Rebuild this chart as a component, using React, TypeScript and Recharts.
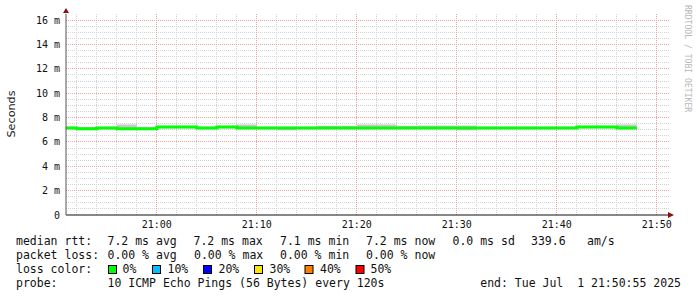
import React from "react";
import {
  ComposedChart,
  Line,
  Area,
  XAxis,
  YAxis,
  CartesianGrid,
  ReferenceDot,
} from "recharts";

// ---------- data ----------
const stepTimes = [
  "20:50:55", "20:52", "20:54", "20:56", "20:58", "21:00", "21:02", "21:04", "21:06", "21:08",
  "21:10", "21:12", "21:14", "21:16", "21:18", "21:20", "21:22", "21:24", "21:26", "21:28",
  "21:30", "21:32", "21:34", "21:36", "21:38", "21:40", "21:42", "21:44", "21:46", "21:48",
];
// median rtt per 120 s step (ms)
const medianRtt = [
  7.15, 7.09, 7.15, 7.09, 7.09, 7.23, 7.23, 7.15, 7.23, 7.15,
  7.15, 7.15, 7.15, 7.15, 7.15, 7.15, 7.15, 7.15, 7.15, 7.15,
  7.15, 7.15, 7.15, 7.15, 7.15, 7.15, 7.22, 7.22, 7.15,
];
// smoke (ping spread) per step, ms
const smokeHigh = [
  7.24, 7.22, 7.24, 7.42, 7.2, 7.32, 7.32, 7.24, 7.32, 7.42,
  7.24, 7.24, 7.24, 7.32, 7.32, 7.42, 7.42, 7.32, 7.34, 7.34,
  7.34, 7.24, 7.24, 7.24, 7.24, 7.24, 7.32, 7.32, 7.42,
];
const smokeLow = [
  7.06, 7.0, 7.06, 7.0, 7.0, 7.13, 7.13, 7.06, 7.13, 7.06,
  7.06, 6.96, 7.06, 7.06, 7.06, 7.06, 7.06, 7.06, 7.06, 7.06,
  6.96, 7.06, 7.06, 7.06, 7.06, 7.06, 7.13, 7.13, 7.06,
];

const xTickLabels = ["21:00", "21:10", "21:20", "21:30", "21:40", "21:50"];
const yTickValues = [0, 2, 4, 6, 8, 10, 12, 14, 16];
const graphStart = "20:50:55";
const graphEnd = "21:51:13";
const yMax = 16.5;

const rttRow = ["median rtt:", "7.2 ms avg", "7.2 ms max", "7.1 ms min", "7.2 ms now", "0.0 ms sd", "339.6", "am/s"];
const lossRow = ["packet loss:", "0.00 % avg", "0.00 % max", "0.00 % min", "0.00 % now"];
const lossLabels = ["0%", "10%", "20%", "30%", "40%", "50%"];
const lossColors = ["#00ff00", "#00c0ff", "#0000ff", "#ffe600", "#ff8000", "#ff0000"];
const probeRow = ["probe:", "10 ICMP Echo Pings (56 Bytes) every 120s"];
const endText = "end: Tue Jul\u00a0 1 21:50:55 2025";

// ---------- helpers ----------
const toSec = (s: string) => {
  const p = s.split(":").map(Number);
  return p[0] * 3600 + p[1] * 60 + (p[2] || 0);
};
const fmt = (v: number) => {
  const h = Math.floor(v / 3600);
  const m = Math.floor((v % 3600) / 60);
  return `${String(h).padStart(2, "0")}:${String(m).padStart(2, "0")}`;
};

const rows = stepTimes.map((t, i) => {
  const k = Math.min(i, medianRtt.length - 1);
  return { t: toSec(t), median: medianRtt[k], smoke: [smokeLow[k], smokeHigh[k]] };
});

const xStart = toSec(graphStart);
const xEnd = toSec(graphEnd);
const xTicks = xTickLabels.map(toSec);

const majorX = xTicks;
const minorX: number[] = [];
for (let t = toSec("20:52"); t <= toSec("21:50"); t += 120) if (!majorX.includes(t)) minorX.push(t);
const majorY = yTickValues.filter((v) => v > 0);
const minorY: number[] = [];
for (let v = 0.5; v < 16.5; v += 0.5) if (v % 2 !== 0) minorY.push(v);

const TopArrow = (p: any) => {
  const { cx, cy } = p;
  return <polygon points={`${cx - 3},${cy - 1} ${cx + 3},${cy - 1} ${cx},${cy - 6}`} fill="#8b1010" />;
};
const RightArrow = (p: any) => {
  const { cx, cy } = p;
  return <polygon points={`${cx - 1},${cy - 3} ${cx - 1},${cy + 3} ${cx + 5},${cy}`} fill="#8b1010" />;
};

const mono = "'DejaVu Sans Mono', monospace";
const rttX = [16, 107.5, 193.5, 280, 366, 452.5, 531, 587];
const lossX = [16, 107.5, 194, 280, 366];
const boxX = [108.5, 152.5, 203.5, 254.5, 305, 356];
const boxLabelX = [122.5, 167.5, 218.5, 269.5, 320, 370.5];

export default function App() {
  return (
    <div style={{ position: "absolute", left: 0, top: 0, width: 697, height: 297, background: "#fff" }}>
      <ComposedChart
        width={697}
        height={297}
        data={rows}
        margin={{ top: 14, right: 28, bottom: 0, left: 0 }}
      >
        <CartesianGrid
          stroke="#d2d2d2"
          strokeDasharray="1 1"
          shapeRendering="crispEdges"
          horizontalValues={minorY}
          verticalValues={minorX}
        />
        <CartesianGrid
          stroke="#eba0a0"
          strokeDasharray="1 1"
          shapeRendering="crispEdges"
          horizontalValues={majorY}
          verticalValues={majorX}
        />
        <XAxis
          dataKey="t"
          type="number"
          domain={[xStart, xEnd]}
          allowDataOverflow
          ticks={xTicks}
          interval={0}
          tickFormatter={fmt}
          height={82}
          tickLine={false}
          tickSize={0}
          tickMargin={6}
          axisLine={{ stroke: "#111" }}
          tick={{ fontFamily: mono, fontSize: 10, fill: "#111" }}
        />
        <YAxis
          type="number"
          domain={[0, yMax]}
          allowDataOverflow
          ticks={yTickValues}
          interval={0}
          tickFormatter={(v: number) => (v === 0 ? "0" : `${v} m`)}
          width={66}
          tickLine={false}
          tickSize={0}
          tickMargin={6}
          axisLine={{ stroke: "#555" }}
          tick={{ fontFamily: mono, fontSize: 10, fill: "#111" }}
        />
        <Area
          type="stepAfter"
          dataKey="smoke"
          stroke="none"
          fill="#c8c8c8"
          fillOpacity={1}
          isAnimationActive={false}
        />
        <Line
          type="stepAfter"
          dataKey="median"
          stroke="#00ff00"
          strokeWidth={3}
          dot={false}
          isAnimationActive={false}
        />
        <ReferenceDot x={xStart} y={yMax} r={0} ifOverflow="visible" shape={TopArrow} />
        <ReferenceDot x={xEnd} y={0} r={0} ifOverflow="visible" shape={RightArrow} />
      </ComposedChart>
      <svg
        width={697}
        height={297}
        style={{ position: "absolute", left: 0, top: 0, pointerEvents: "none" }}
      >
        <text
          x={15}
          y={114}
          transform="rotate(-90 15 114)"
          textAnchor="middle"
          fontFamily="'DejaVu Sans', sans-serif"
          fontSize={11.2}
          fill="#222"
        >
          Seconds
        </text>
        <text
          x={685}
          y={5}
          transform="rotate(90 685 5)"
          fontFamily={mono}
          fontSize={8.1}
          fill="#b8b8b8"
        >
          RRDTOOL / TOBI OETIKER
        </text>
        <g fontFamily={mono} fontSize={11.5} fill="#111" style={{ whiteSpace: "pre" }}>
          {rttRow.map((s, i) => (
            <text key={"r" + i} x={rttX[i]} y={245}>{s}</text>
          ))}
          {lossRow.map((s, i) => (
            <text key={"l" + i} x={lossX[i]} y={259}>{s}</text>
          ))}
          <text x={16} y={273.3}>loss color:</text>
          {lossLabels.map((s, i) => (
            <g key={"c" + i}>
              <rect x={boxX[i]} y={265.5} width={8} height={8} fill={lossColors[i]} stroke="#000" strokeWidth={1} />
              <text x={boxLabelX[i]} y={273.3}>{s}</text>
            </g>
          ))}
          <text x={16} y={287.3}>{probeRow[0]}</text>
          <text x={107.5} y={287.3}>{probeRow[1]}</text>
          <text x={681} y={287.3} textAnchor="end">{endText}</text>
        </g>
      </svg>
    </div>
  );
}
